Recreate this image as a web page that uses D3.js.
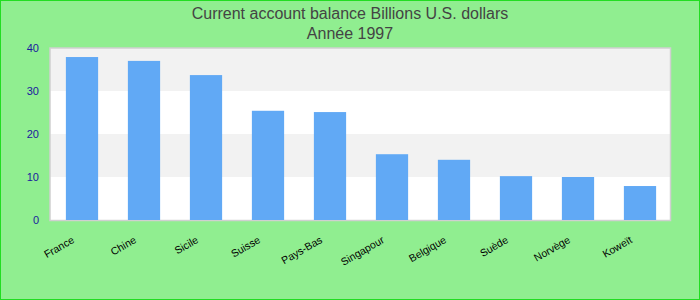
<!DOCTYPE html>
<html>
<head>
<meta charset="utf-8">
<script src="https://cdn.jsdelivr.net/npm/d3@7"></script>
<style>
  body { margin: 0; }
  svg { display: block; font-family: "Liberation Sans", Arial, sans-serif; }
</style>
</head>
<body>
<div id="chart"></div>
<script>
const countries = [`France`, `Chine`, `Sicile`, `Suisse`, `Pays-Bas`, `Singapour`, `Belgique`, `Suède`, `Norvège`, `Koweït`];
const balances = [37.9, 37.0, 33.7, 25.4, 25.1, 15.3, 14.0, 10.2, 10.0, 7.9];
const yTicks = [0, 10, 20, 30, 40];
const titleLines = [`Current account balance Billions U.S. dollars`, `Année 1997`];

const width = 700;
const height = 300;
const margin = {top: 48, right: 30, bottom: 80, left: 50};
const innerWidth = width - margin.left - margin.right;
const innerHeight = height - margin.top - margin.bottom;

const svg = d3.select(`#chart`)
  .append(`svg`)
    .attr(`width`, width)
    .attr(`height`, height);

// background + outer border
svg.append(`rect`)
  .attr(`x`, 0.5).attr(`y`, 0.5)
  .attr(`width`, width - 1).attr(`height`, height - 1)
  .attr(`fill`, `#90ee90`)
  .attr(`stroke`, `#22dd22`);

// titles
svg.selectAll(`.title`)
  .data(titleLines)
  .enter().append(`text`)
    .attr(`class`, `title`)
    .attr(`x`, width / 2)
    .attr(`y`, (d, i) => 19 + i * 20)
    .attr(`text-anchor`, `middle`)
    .attr(`font-size`, 16)
    .attr(`fill`, `#444`)
    .text(d => d);

const x = d3.scaleBand()
  .domain(countries)
  .range([1, innerWidth + 1])
  .paddingInner(0.48)
  .paddingOuter(0.24);

const y = d3.scaleLinear()
  .domain([0, 40])
  .range([innerHeight, 0]);

const g = svg.append(`g`)
  .attr(`transform`, `translate(${margin.left}, ${margin.top})`);

// alternating bands
const bands = d3.pairs(yTicks);
g.selectAll(`.band`)
  .data(bands)
  .enter().append(`rect`)
    .attr(`class`, `band`)
    .attr(`x`, 0)
    .attr(`y`, d => y(d[1]))
    .attr(`width`, innerWidth)
    .attr(`height`, d => y(d[0]) - y(d[1]))
    .attr(`fill`, (d, i) => i % 2 ? `#f2f2f2` : `#ffffff`);

// plot frame
g.append(`rect`)
  .attr(`x`, 0).attr(`y`, 0)
  .attr(`width`, innerWidth + 0.5).attr(`height`, innerHeight + 0.5)
  .attr(`fill`, `none`)
  .attr(`stroke`, `#d0d0d0`)
  .attr(`stroke-width`, 1.5);

// bars
g.selectAll(`.bar`)
  .data(countries)
  .enter().append(`rect`)
    .attr(`class`, `bar`)
    .attr(`x`, d => x(d))
    .attr(`y`, (d, i) => y(balances[i]))
    .attr(`width`, x.bandwidth())
    .attr(`height`, (d, i) => innerHeight - y(balances[i]))
    .attr(`fill`, `#61a9f5`);

// y axis
const yAxis = g.append(`g`)
  .call(d3.axisLeft(y).tickValues(yTicks).tickSize(0).tickPadding(11));
yAxis.select(`.domain`).remove();
yAxis.selectAll(`text`)
  .attr(`font-family`, `"Liberation Sans", Arial, sans-serif`)
  .attr(`font-size`, 11)
  .attr(`fill`, `#1a1a9e`);

// x axis, labels rotated -30deg, ending just left of each bar centre
const xAxis = g.append(`g`)
  .attr(`transform`, `translate(0, ${innerHeight})`)
  .call(d3.axisBottom(x).tickSize(0));
xAxis.select(`.domain`).remove();
xAxis.selectAll(`text`)
  .attr(`font-family`, `"Liberation Sans", Arial, sans-serif`)
  .attr(`font-size`, 10.5)
  .attr(`fill`, `#000`)
  .attr(`text-anchor`, `end`)
  .attr(`x`, 0)
  .attr(`y`, 0)
  .attr(`dy`, `0`)
  .attr(`transform`, `translate(-7, 22) rotate(-30)`);
</script>
</body>
</html>
